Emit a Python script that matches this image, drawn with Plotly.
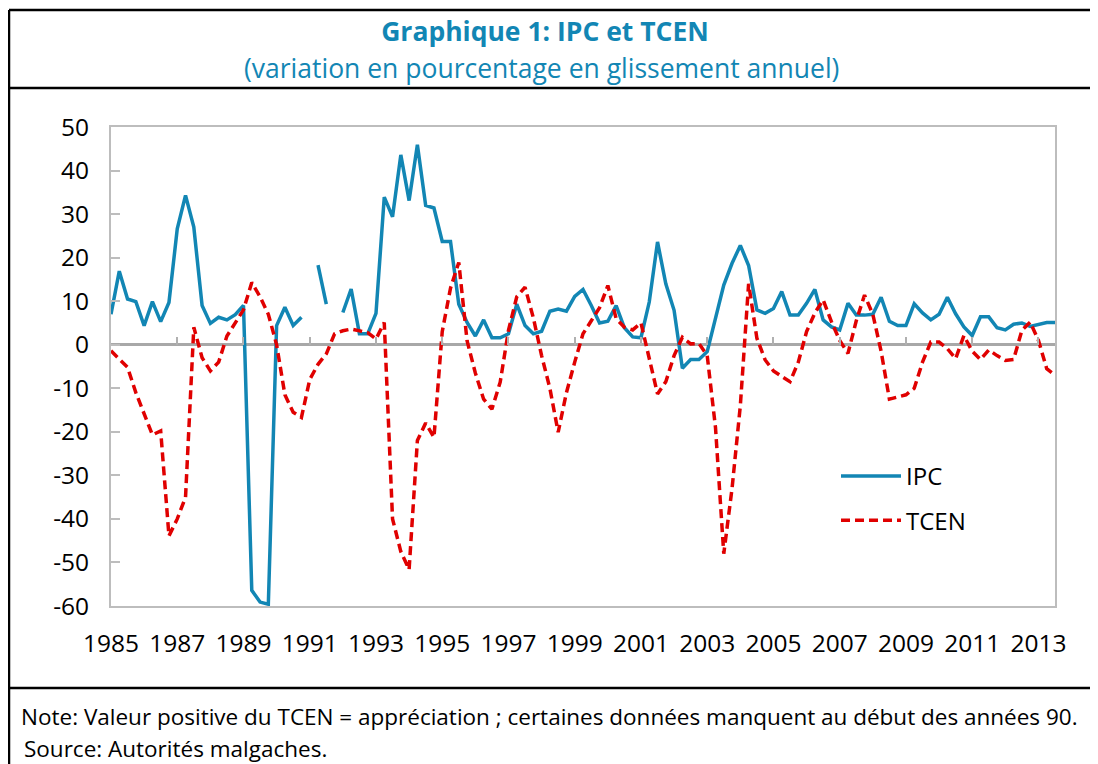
import plotly.graph_objects as go

# Quarterly data, 1985Q1 .. 2013Q3
start_year = 1985
n_quarters = 115
years = [start_year + k / 4 for k in range(n_quarters)]

ipc = [
    7.0, 16.9, 10.5, 9.9, 4.4, 9.9, 5.3, 9.7, 26.6, 34.3,
    27.0, 9.0, 4.9, 6.3, 5.7, 6.9, 9.0, -56.4, -59.1, -59.6,
    4.4, 8.6, 4.4, 6.3, None, 18.3, 9.3, None, 7.4, 12.8,
    2.5, 2.5, 7.2, 33.9, 29.4, 43.6, 33.1, 45.9, 32.0, 31.4,
    23.7, 23.7, 9.3, 5.1, 2.0, 5.7, 1.6, 1.6, 2.5, 9.3,
    4.4, 2.5, 3.1, 7.7, 8.2, 7.7, 11.1, 12.7, 9.0, 5.0,
    5.4, 9.0, 3.9, 1.8, 1.6, 9.8, 23.6, 14.0, 7.9, -5.4,
    -3.4, -3.4, -1.6, 6.0, 13.7, 18.7, 22.8, 18.2, 8.0, 7.2,
    8.3, 12.2, 6.8, 6.8, 9.5, 12.7, 5.7, 4.1, 3.4, 9.5,
    6.8, 6.8, 7.0, 10.9, 5.4, 4.4, 4.4, 9.4, 7.3, 5.7,
    7.0, 10.9, 7.1, 4.1, 2.1, 6.4, 6.4, 3.9, 3.4, 4.7,
    5.0, 4.2, 4.7, 5.1, 5.1,
]

tcen = [
    -1.4, -3.3, -5.2, -11.0, -16.0, -20.7, -19.8, -43.9, -40.0, -35.0,
    4.0, -3.0, -6.0, -4.0, 2.0, 5.0, 8.0, 14.3, 11.0, 7.0,
    0.0, -11.5, -15.5, -16.7, -8.0, -4.5, -2.1, 2.5, 3.2, 3.6,
    3.1, 2.8, 1.3, 5.1, -40.0, -47.5, -51.6, -22.0, -18.0, -21.3,
    3.0, 13.0, 18.9, 0.9, -6.5, -12.5, -14.8, -8.6, 3.3, 11.0,
    13.2, 6.2, -2.5, -10.0, -20.1, -11.0, -4.0, 2.5, 5.5, 8.5,
    13.6, 6.0, 4.0, 3.4, 5.0, -3.0, -11.3, -8.5, -2.5, 1.7,
    0.2, 0.3, -2.5, -19.0, -48.0, -33.0, -14.0, 14.0, 1.5, -3.5,
    -6.0, -7.3, -8.5, -4.0, 3.0, 7.3, 10.3, 5.3, 1.0, -2.0,
    5.5, 11.4, 7.0, -1.5, -12.5, -12.0, -11.5, -10.0, -4.0, 0.6,
    0.6, -0.9, -3.2, 2.1, -1.5, -3.4, -1.2, -2.5, -3.6, -3.4,
    3.3, 5.2, 1.0, -5.5, -7.0,
]

y_ticks = [50, 40, 30, 20, 10, 0, -10, -20, -30, -40, -50, -60]
y_ticklabels = ["50", "40", "30", "20", "10", "0", "-10", "-20", "-30", "-40", "-50", "-60"]
x_ticks = list(range(1985, 2014, 2))

BLUE = "#1286b4"
RED = "#e00000"
FONT = "Open Sans"

fig = go.Figure()
fig.add_trace(go.Scatter(
    x=years, y=ipc, name="IPC", mode="lines", legendgroup="a",
    line=dict(color=BLUE, width=3.5), connectgaps=False,
))
fig.add_trace(go.Scatter(
    x=years, y=tcen, name="TCEN", mode="lines", legendgroup="b",
    line=dict(color=RED, width=3.5, dash="9px,5px"),
))
# carrier trace for the tick-mark axis drawn along the zero line
fig.add_trace(go.Scatter(x=[None], y=[None], xaxis="x2", showlegend=False,
                         hoverinfo="skip"))

# the page body adds an 8px margin: work in screenshot pixels, convert here
OFF = 8
W, H = 1098 - OFF, 764 - OFF
L, R, T, B = 111, 1055, 127, 606          # plot area in screenshot pixels
pw, ph = R - L, B - T


def px(xp):
    return (xp - L) / pw


def py(yp):
    return (B - yp) / ph


ymin, ymax = -60, 50
xr = [years[0], years[-1]]

fig.update_layout(
    width=W, height=H,
    margin=dict(l=L - OFF, r=(W + OFF) - R, t=T - OFF, b=(H + OFF) - B),
    paper_bgcolor="white", plot_bgcolor="white",
    font=dict(family=FONT, size=24, color="black"),
    showlegend=True,
    legend=dict(x=px(836), y=py(454), xanchor="left", yanchor="top",
                bgcolor="rgba(0,0,0,0)", font=dict(size=24),
                traceorder="grouped", tracegroupgap=10, itemwidth=60),
    title=dict(text="<b>Graphique 1: IPC et TCEN</b>", x=(545 - OFF) / W, xanchor="center",
               y=1 - (32 - OFF) / H, yanchor="middle",
               font=dict(family=FONT, size=26.5, color=BLUE)),
    xaxis=dict(range=xr, tickvals=x_ticks, ticktext=[str(v) for v in x_ticks],
               ticks="", showgrid=False, zeroline=False,
               showline=True, mirror=True, linecolor="#bdbdbd", linewidth=2,
               tickfont=dict(size=24.5), ticklabelstandoff=15),
    xaxis2=dict(range=xr, overlaying="x", anchor="free", position=(0 - ymin) / (ymax - ymin),
                side="bottom", tickvals=x_ticks, ticks="inside", ticklen=8, tickwidth=2,
                tickcolor="#b0b0b0", showticklabels=False, showgrid=False,
                zeroline=False, showline=False),
    yaxis=dict(range=[ymin, ymax], tickvals=y_ticks, ticktext=y_ticklabels,
               ticks="inside", ticklen=9,
               tickwidth=2, tickcolor="#bdbdbd", showgrid=False,
               zeroline=True, zerolinecolor="#a8a8a8", zerolinewidth=3,
               showline=True, mirror=True, linecolor="#bdbdbd", linewidth=2,
               tickfont=dict(size=24.5), ticklabelstandoff=15),
)

fig.add_annotation(text="(variation en pourcentage en glissement annuel)",
                   xref="paper", yref="paper", x=px(541), y=py(68),
                   xanchor="center", yanchor="middle", showarrow=False,
                   font=dict(family=FONT, size=26.5, color=BLUE))
fig.add_annotation(text="Note: Valeur positive du TCEN = appréciation ; certaines données manquent au début des années 90.",
                   xref="paper", yref="paper", x=px(19), y=py(716),
                   xanchor="left", yanchor="middle", showarrow=False,
                   font=dict(family=FONT, size=22.5, color="black"))
fig.add_annotation(text="Source: Autorités malgaches.",
                   xref="paper", yref="paper", x=px(22), y=py(748),
                   xanchor="left", yanchor="middle", showarrow=False,
                   font=dict(family=FONT, size=22.5, color="black"))

# outer frame of the exhibit
frame = dict(type="line", xref="paper", yref="paper", line=dict(color="black", width=2.5))
fig.add_shape(**frame, x0=px(9), x1=px(W + OFF + 5), y0=py(10), y1=py(10))
fig.add_shape(**frame, x0=px(9), x1=px(W + OFF + 5), y0=py(88), y1=py(88))
fig.add_shape(**frame, x0=px(9), x1=px(W + OFF + 5), y0=py(688), y1=py(688))
fig.add_shape(**frame, x0=px(9), x1=px(9), y0=py(10), y1=py(H + OFF + 5))

fig.write_html("out.html")
